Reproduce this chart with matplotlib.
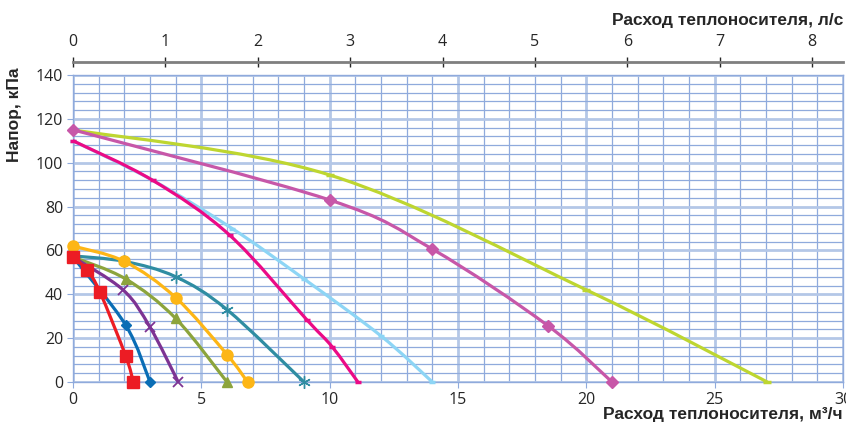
import numpy as np
import matplotlib
matplotlib.use("Agg")
import matplotlib.pyplot as plt
from matplotlib.path import Path
from matplotlib.patches import PathPatch

plt.rcParams["font.family"] = ["Open Sans", "DejaVu Sans"]

# flow, m3/h  /  head, kPa  (marker points)
lime_q = [0, 10, 20, 27.05]
lime_h = [115, 94.4, 42, 0]
orchid_q = [0, 10, 14, 18.5, 21]
orchid_h = [115, 83, 60.6, 25.7, 0]
sky_q = [0, 3.1, 6.2, 9, 12, 14]
sky_h = [110, 92, 70, 47, 21, 0]
pink_q = [0, 3.1, 6.1, 9.1, 10.1, 11.1]
pink_h = [110, 92, 67, 28.5, 16, 0]
teal_q = [0, 2, 4, 6, 9]
teal_h = [57.5, 55, 48, 33, 0]
orange_q = [0, 2, 4, 6, 6.8]
orange_h = [62, 55, 38.5, 12.5, 0]
olive_q = [0, 2.05, 4, 6]
olive_h = [57, 47, 29, 0]
purple_q = [0, 1.95, 3, 4.1]
purple_h = [57, 42, 25, 0]
blue_q = [0, 2.05, 3]
blue_h = [57, 26, 0]
red_q = [0, 0.55, 1.05, 2.05, 2.35]
red_h = [57, 51, 41, 12, 0]

series = [
    (lime_q, lime_h, "#BED630", "_", 6, 2.5),
    (orchid_q, orchid_h, "#C757A8", "D", 6, 1),
    (sky_q, sky_h, "#8DD5F5", "_", 5, 2.5),
    (pink_q, pink_h, "#EB0A86", "_", 5, 2.5),
    (teal_q, teal_h, "#2F8DA2", (6, 2, 0), 9, 1),
    (orange_q, orange_h, "#FDB616", "o", 8, 1),
    (olive_q, olive_h, "#8CA43C", "^", 7.5, 1),
    (purple_q, purple_h, "#7D3393", "x", 7, 1.3),
    (blue_q, blue_h, "#0A6DB5", "D", 5.5, 1),
    (red_q, red_h, "#EC1C24", "s", 8, 1),
]


def smooth_path(xs, ys):
    pts = np.column_stack([xs, ys]).astype(float)
    n = len(pts)
    verts = [pts[0]]
    codes = [Path.MOVETO]
    for i in range(n - 1):
        p0 = pts[max(i - 1, 0)]
        p1 = pts[i]
        p2 = pts[i + 1]
        p3 = pts[min(i + 2, n - 1)]
        verts += [p1 + (p2 - p0) / 6, p2 - (p3 - p1) / 6, p2]
        codes += [Path.CURVE4] * 3
    return Path(verts, codes)


fig = plt.figure(figsize=(8.46, 4.30), dpi=100)
ax = fig.add_axes([73 / 846, 48 / 430, 770 / 846, 307 / 430])

ax.set_xlim(0, 30)
ax.set_ylim(0, 140)
ax.set_xticks(np.arange(0, 31, 5))
ax.set_xticks(np.arange(0, 31, 1), minor=True)
ax.set_yticks(np.arange(0, 141, 20))
ax.set_yticks(np.arange(0, 141, 4), minor=True)
ax.grid(which="minor", color="#8FAADC", lw=0.9)
ax.grid(which="major", color="#B4C7E7", lw=2)
ax.set_axisbelow(True)
for s in ax.spines.values():
    s.set_color("#8FAADC")
    s.set_linewidth(1)
ax.tick_params(which="minor", length=0)
ax.tick_params(which="major", length=4, color="#8FAADC", labelsize=11.5,
               labelcolor="#262626")
ax.tick_params(axis="y", pad=3)
ax.tick_params(axis="x", pad=3)

for i, (q, h, col, mk, ms, mew) in enumerate(series):
    ax.add_patch(PathPatch(smooth_path(q, h), facecolor="none", edgecolor=col,
                           lw=2.3, transform=ax.transData, zorder=3 + i,
                           capstyle="round", joinstyle="round"))
    ax.plot(q, h, linestyle="none", marker=mk, ms=ms, color=col, mec=col,
            mew=mew, zorder=3.5 + i, clip_on=False)

top = ax.secondary_xaxis("top", functions=(lambda x: x / 3.6, lambda x: x * 3.6))
top.set_xticks(np.arange(0, 9, 1))
top.spines["top"].set_position(("outward", 9.5))
top.spines["top"].set_color("#7F7F7F")
top.spines["top"].set_linewidth(2)
top.tick_params(direction="inout", length=7, width=1, color="#262626",
                labelsize=11.5, labelcolor="#262626", pad=5)

fig.text(843 / 846, 1 - 20 / 430, "Расход теплоносителя, л/с",
         ha="right", va="center", fontsize=12.5, fontweight="bold",
         family="Liberation Sans", color="#262626")
fig.text(843 / 846, 1 - 415 / 430, "Расход теплоносителя, м³/ч",
         ha="right", va="center", fontsize=12.5, fontweight="bold",
         family="Liberation Sans", color="#262626")
fig.text(14 / 846, 1 - 115 / 430, "Напор, кПа", rotation=90,
         ha="center", va="center", fontsize=12.5, fontweight="bold",
         family="Liberation Sans", color="#262626")

fig.savefig("out.png", dpi=100)
